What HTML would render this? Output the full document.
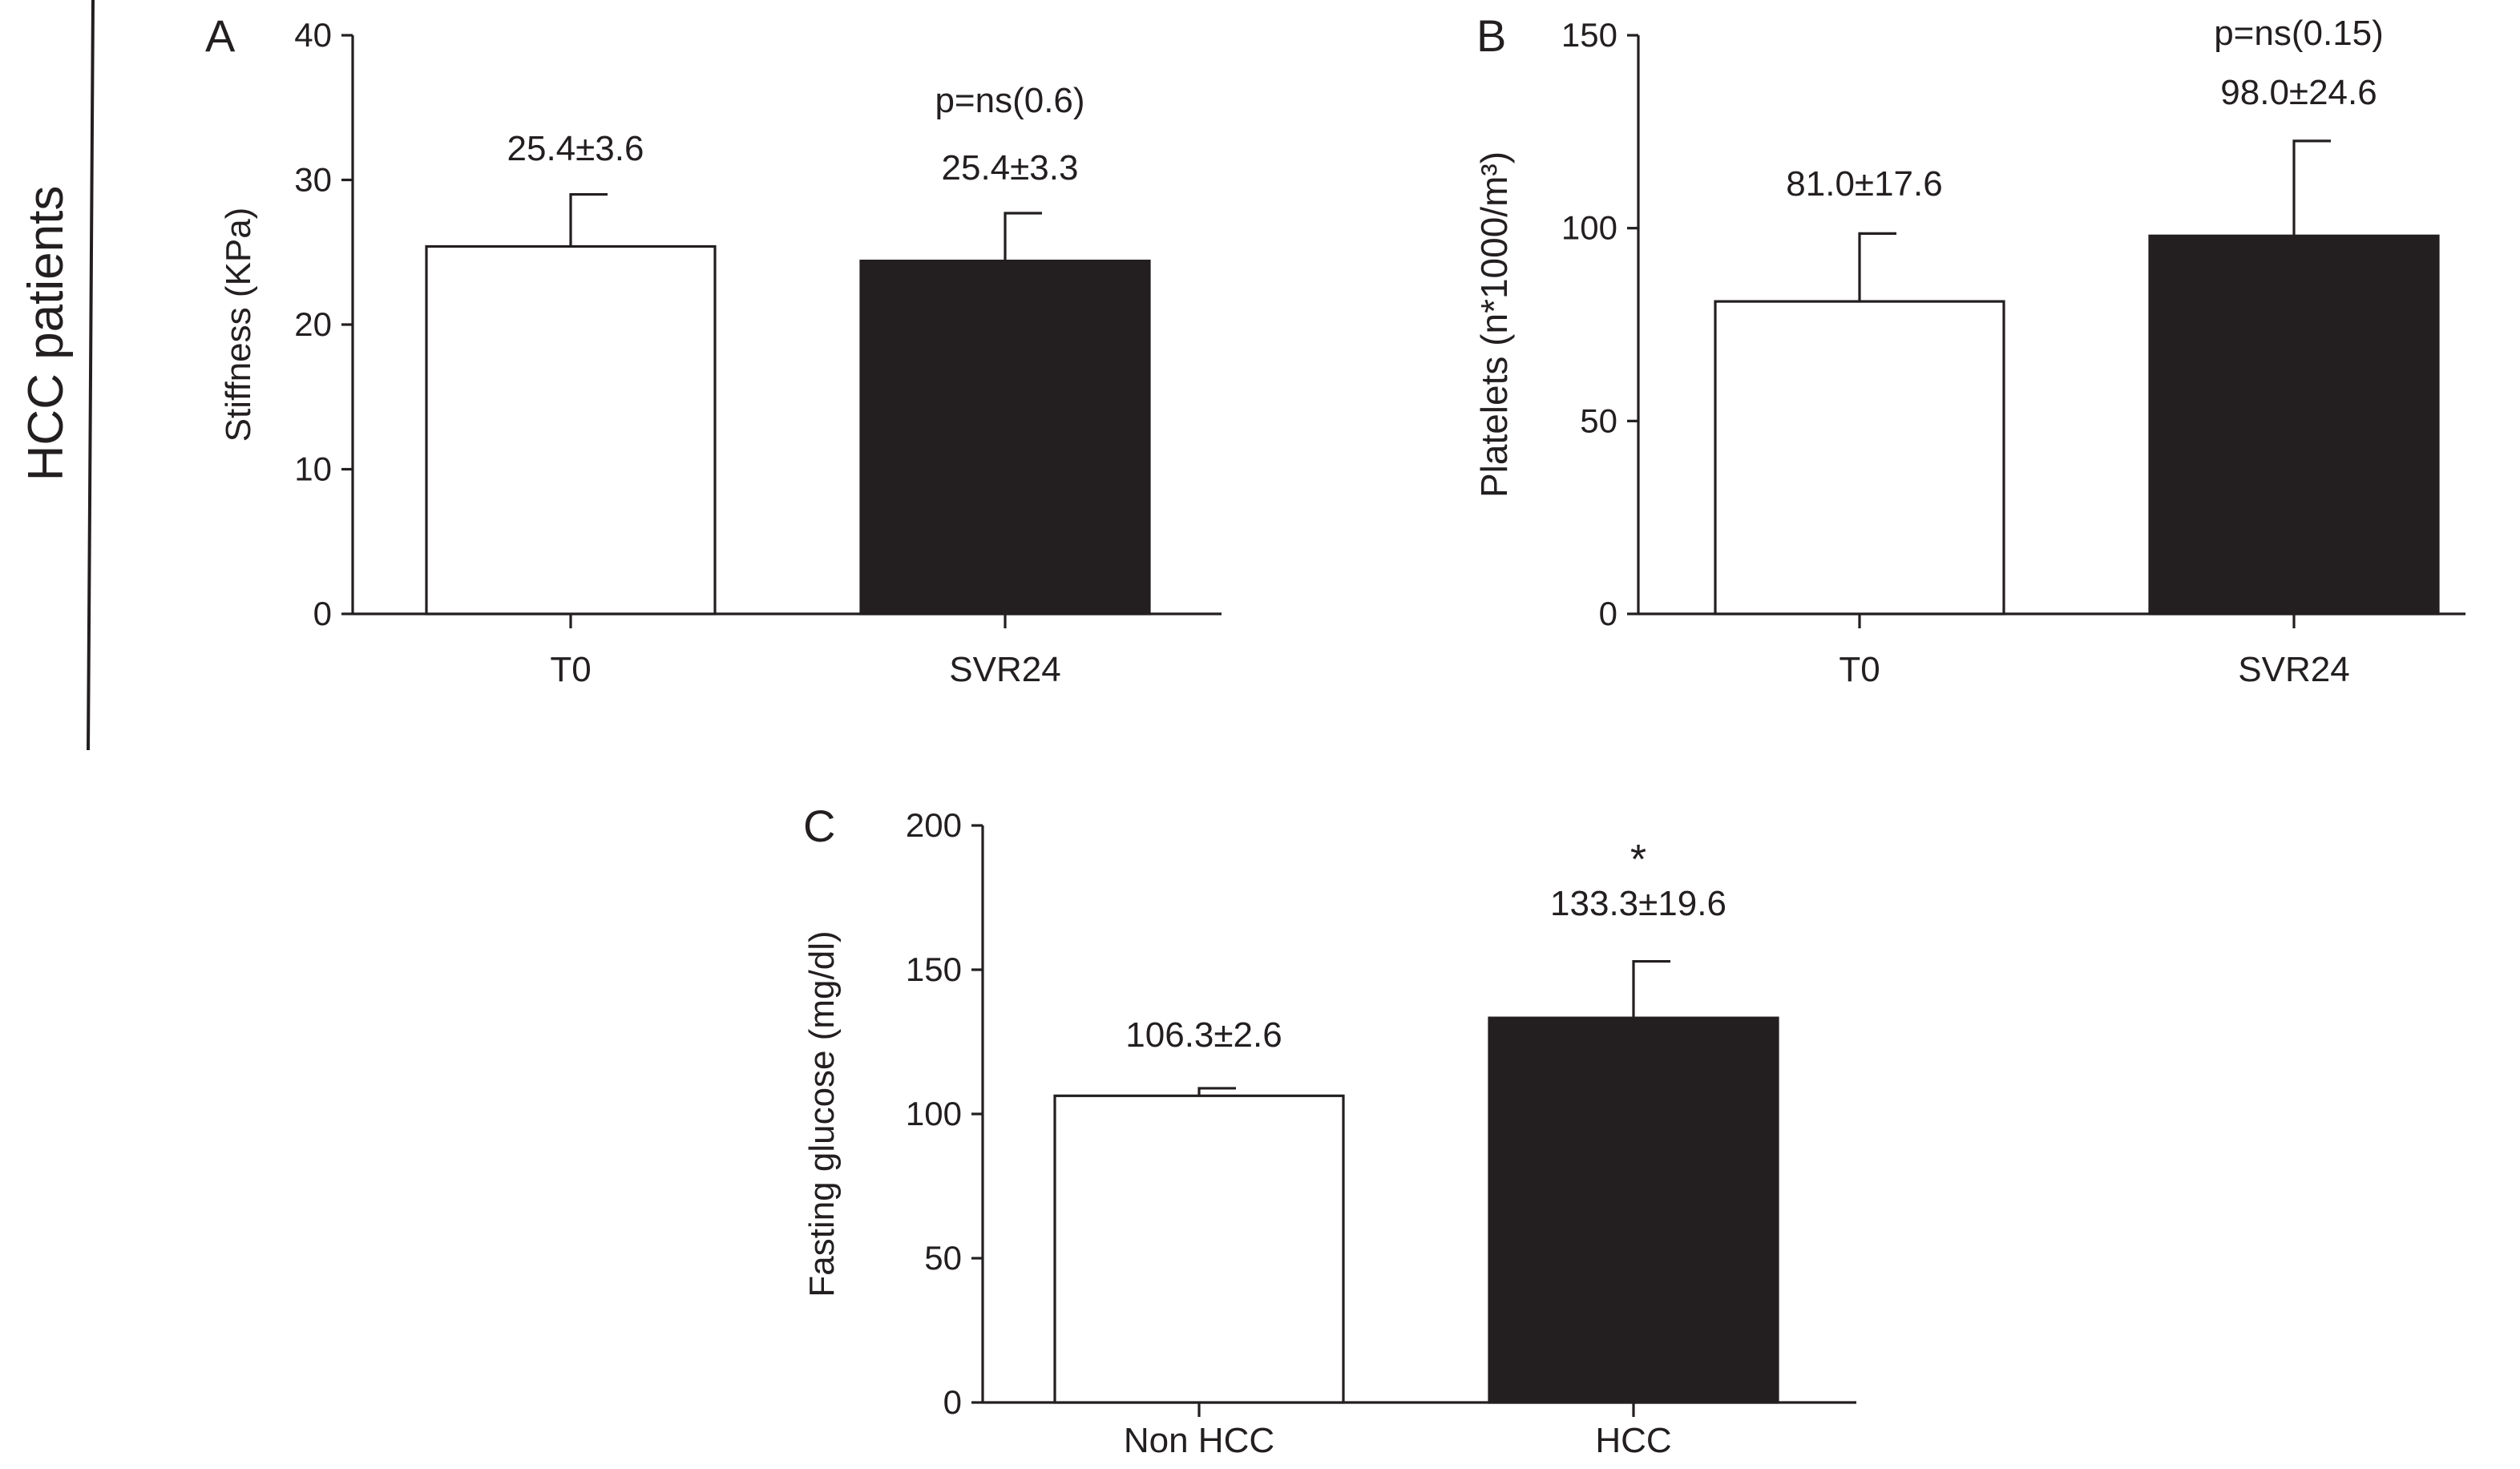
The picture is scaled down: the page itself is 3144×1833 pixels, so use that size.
<!DOCTYPE html>
<html><head><meta charset="utf-8"><style>
html,body{margin:0;padding:0;background:#fff}
svg{display:block}
text{font-family:"Liberation Sans",Arial,sans-serif;fill:#231f20}
</style></head><body>
<svg id="fig" width="3144" height="1833" viewBox="0 0 1572 916.5" xmlns="http://www.w3.org/2000/svg">
<line x1="58" y1="0" x2="55" y2="468" stroke="#231f20" stroke-width="2"/>
<text x="0" y="0" font-size="31" text-anchor="middle" transform="translate(39,208) rotate(-90)">HCC patients</text>
<g id="charts"></g>
</svg>
<script>
const catsA=["T0","SVR24"], valsA=[25.4,24.4], errA=[3.6,3.3], lblA=["25.4±3.6","25.4±3.3"], ticksA=[0,10,20,30,40];
const catsB=["T0","SVR24"], valsB=[81.0,98.0], errB=[17.6,24.6], lblB=["81.0±17.6","98.0±24.6"], ticksB=[0,50,100,150];
const catsC=["Non HCC","HCC"], valsC=[106.3,133.3], errC=[2.6,19.6], lblC=["106.3±2.6","133.3±19.6"], ticksC=[0,50,100,150,200];
const NS="http://www.w3.org/2000/svg";
const root=document.getElementById('charts');
function el(tag,attrs,parent,txt){const e=document.createElementNS(NS,tag);for(const k in attrs)e.setAttribute(k,attrs[k]);if(txt!==undefined)e.textContent=txt;parent.appendChild(e);return e;}
function panel(cfg){
  const g=el('g',{},root);
  
  
  const max=cfg.ticks[cfg.ticks.length-1];
  const y=v=>cfg.y0-(v/max)*(cfg.y0-cfg.yTop);
  const ax=el('line',{x1:cfg.x0,y1:cfg.yTop,x2:cfg.x0,y2:cfg.y0,stroke:'#231f20','stroke-width':1.6},g);
  
  
  const xa=el('line',{x1:cfg.x0,y1:cfg.y0,x2:cfg.xEnd,y2:cfg.y0,stroke:'#231f20','stroke-width':1.6},g);
  
  
  cfg.ticks.forEach(t=>{
    const tl=el('line',{x1:cfg.x0-7,y1:y(t),x2:cfg.x0,y2:y(t),stroke:'#231f20','stroke-width':1.6},g);
    
    
    const tx=el('text',{x:cfg.x0-13,y:y(t)+7,'font-size':21,'text-anchor':'end'},g,String(t));
    
    
  });
  const yt=el('text',{x:0,y:0,'font-size':cfg.ytSize,'text-anchor':'middle',transform:`translate(${cfg.ytX},${(cfg.yTop+cfg.y0)/2}) rotate(-90)`},g,cfg.ytitle);
  
  
  const pl=el('text',{x:cfg.letterX,y:cfg.yTop+10,'font-size':28},g,cfg.id);
  
  
  cfg.cats.forEach((c,i)=>{
    const cx=cfg.cx[i], w=180, v=cfg.vals[i], e=cfg.errs[i];
    const b=el('rect',{x:cx-w/2,y:y(v),width:w,height:cfg.y0-y(v),fill:i?'#231f20':'#fff',stroke:'#231f20','stroke-width':1.6},g);
    
    
    const eb=el('path',{d:`M${cx},${y(v)}V${y(v+e)}H${cx+23}`,stroke:'#231f20','stroke-width':1.6,fill:'none'},g);
    
    
    const ct=el('line',{x1:cx,y1:cfg.y0,x2:cx,y2:cfg.y0+9,stroke:'#231f20','stroke-width':1.6},g);
    
    
    const cl=el('text',{x:cx,y:cfg.y0+cfg.xlOff,'font-size':22,'text-anchor':'middle'},g,c);
    
    
    const vl=el('text',{x:cx+3,y:cfg.lblY[i],'font-size':22,'text-anchor':'middle'},g,cfg.lbls[i]);
    
    
  });
  if(cfg.sig){
    const s=el('text',{x:cfg.cx[1]+3,y:cfg.sigY,'font-size':cfg.sigSize,'text-anchor':'middle'},g,cfg.sig);
    
    
  }
}
panel({id:'A',x0:220,xEnd:762,yTop:22,y0:383,ticks:ticksA,cats:catsA,vals:valsA,errs:errA,lbls:lblA,cx:[356,627],lblY:[100,112],ytitle:'Stiffness (KPa)',ytSize:22,ytX:156,letterX:128,xlOff:42,sig:'p=ns(0.6)',sigY:70,sigSize:22});
panel({id:'B',x0:1022,xEnd:1538,yTop:22,y0:383,ticks:ticksB,cats:catsB,vals:valsB,errs:errB,lbls:lblB,cx:[1160,1431],lblY:[122,65],ytitle:'Platelets (n*1000/m³)',ytSize:23,ytX:940,letterX:921,xlOff:42,sig:'p=ns(0.15)',sigY:28,sigSize:22});
panel({id:'C',x0:613,xEnd:1158,yTop:515,y0:875,ticks:ticksC,cats:catsC,vals:valsC,errs:errC,lbls:lblC,cx:[748,1019],lblY:[653,571],ytitle:'Fasting glucose (mg/dl)',ytSize:22,ytX:520,letterX:501,xlOff:31,sig:'*',sigY:545,sigSize:26});
</script>
</body></html>
